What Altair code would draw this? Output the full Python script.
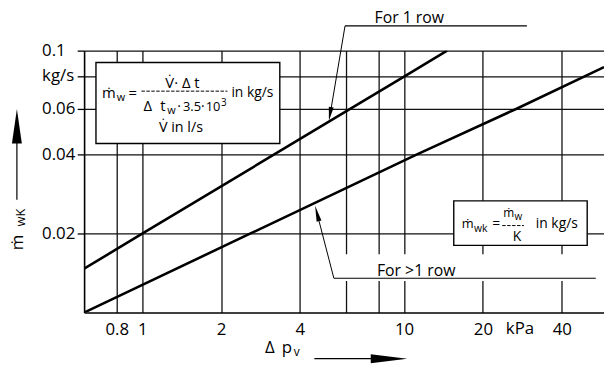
import altair as alt
import pandas as pd

# ---- values ----
dp_one_row = [0.6, 1.0, 6.0, 10.0, 14.6]          # kPa
m_one_row = [0.0147, 0.02, 0.0586, 0.0796, 0.1]   # kg/s
dp_multi_row = [0.6, 2.58, 11.1, 26.9, 58.0]
m_multi_row = [0.01, 0.02, 0.04, 0.06, 0.0865]
series_names = ["For 1 row", "For >1 row"]
x_ticks = [0.8, 1, 2, 4, 6, 8, 10, 20, 40]
y_ticks = [0.02, 0.04, 0.06, 0.08, 0.1]

df = pd.DataFrame({
    "dp": dp_one_row + dp_multi_row,
    "m": m_one_row + m_multi_row,
    "series": [series_names[0]] * len(dp_one_row) + [series_names[1]] * len(dp_multi_row),
})

FONT = "Open Sans"
INK = "black"
W, H = 526, 265

xscale = alt.Scale(type="log", domain=[0.6, 58], nice=False, zero=False)
yscale = alt.Scale(type="log", domain=[0.01, 0.1], nice=False, zero=False)

lines = alt.Chart(df).mark_line(color=INK, strokeWidth=2.6, clip=True).encode(
    x=alt.X("dp:Q", scale=xscale, axis=alt.Axis(
        values=x_ticks, title=None, grid=True, gridColor="#111", gridWidth=1.3, gridOpacity=1,
        domain=True, domainColor=INK, domainWidth=1.6, ticks=False, tickSize=0,
        labelPadding=17, labelBaseline="middle", labelFont=FONT, labelFontSize=17,
        labelColor=INK, labelOverlap=False, labelFlush=False, labelBound=False,
        labelExpr="(datum.value == 6 || datum.value == 8) ? '' : format(datum.value, '~g')")),
    y=alt.Y("m:Q", scale=yscale, axis=alt.Axis(
        values=y_ticks, title=None, grid=True, gridColor="#111", gridWidth=1.3, gridOpacity=1,
        domain=True, domainColor=INK, domainWidth=1.6, ticks=True, tickSize=7,
        tickColor=INK, tickWidth=1.3, labelAlign="left", labelPadding=36,
        labelBaseline="middle", labelFont=FONT, labelFontSize=17, labelColor=INK,
        labelOverlap=False, labelFlush=False, labelBound=False,
        labelExpr="datum.value == 0.08 ? 'kg/s' : format(datum.value, '.2~f')")),
    detail="series:N",
)

dummy = pd.DataFrame({"a": [0]})


def txt(s, x, y, size=15, align="left", baseline="alphabetic", angle=0):
    return alt.Chart(dummy).mark_text(
        text=s, font=FONT, fontSize=size, align=align, baseline=baseline,
        angle=angle, color=INK).encode(x=alt.value(x), y=alt.value(y))


def seg(x1, y1, x2, y2, width=1.2, color=INK, dash=None):
    kw = dict(color=color, strokeWidth=width)
    if dash:
        kw["strokeDash"] = dash
    return alt.Chart(dummy).mark_rule(**kw).encode(
        x=alt.value(x1), y=alt.value(y1), x2=alt.value(x2), y2=alt.value(y2))


def box(x1, y1, x2, y2, stroke=True):
    kw = dict(fill="white", opacity=1)
    if stroke:
        kw.update(stroke=INK, strokeWidth=1.4)
    return alt.Chart(dummy).mark_rect(**kw).encode(
        x=alt.value(x1), y=alt.value(y1), x2=alt.value(x2), y2=alt.value(y2))


def head(x, y, length, width, angle):
    w = width / length
    return alt.Chart(dummy).mark_point(
        shape=f"M0,0L{w:.3f},2L-{w:.3f},2Z", filled=True, fill=INK, color=INK,
        opacity=1, strokeWidth=0, size=length * length, angle=angle).encode(
        x=alt.value(x), y=alt.value(y))


layers = [lines]

# "For 1 row" label with leader
layers += [
    txt("For 1 row", 329, -28, size=16, align="center"),
    seg(264, -25, 448, -25, width=1.2),
    seg(264, -25, 250, 58, width=1.0),
    head(247.7, 71, 14, 5, 189.6),
]

# "For >1 row" label with white gap and leader
layers += [
    box(255, 206, 520, 233, stroke=False),
    txt("For >1 row", 336, 227.7, size=16, align="center"),
    seg(252.7, 230.3, 517.7, 230.3, width=1.2),
    seg(252.7, 230.3, 237.7, 172.5, width=1.0),
    head(233.7, 157, 16, 5, 345.5),
]

# formula box 1
layers += [
    box(12, 12, 198, 94),
    txt("\u1e41", 18, 47.7, size=15),
    txt("w", 33, 51, size=11),
    txt("=", 45, 47.7, size=15),
    txt("V\u0307\u00b7 \u0394 t", 99.5, 37.7, size=15, align="center"),
    seg(58, 41, 145, 41, width=1.0, dash=[3.5, 1.5]),
    txt("\u0394", 60, 61, size=15),
    txt("t", 77, 61, size=15),
    txt("w", 84, 64, size=11),
    txt("\u00b7", 96, 61, size=14, align="center"),
    txt("3.5", 100, 61, size=13),
    txt("\u00b7", 120, 61, size=14, align="center"),
    txt("10", 123, 61, size=13),
    txt("3", 138.5, 56, size=10),
    txt("in kg/s", 149, 46.7, size=14),
    txt("V\u0307 in l/s", 98, 82, size=14.5, align="center"),
]

# formula box 2
layers += [
    box(374, 152, 509, 197),
    txt("\u1e41", 382, 179.3, size=13),
    txt("wk", 394.5, 183.3, size=10.5),
    txt("=", 413, 179.3, size=14),
    txt("\u1e41", 424, 168.7, size=12),
    txt("w", 435.5, 171, size=10),
    seg(423, 177, 445, 177, width=1.0, dash=[3.5, 1.5]),
    txt("K", 438, 192.7, size=14, align="center"),
    txt("in kg/s", 457, 179.3, size=14),
]

# unit label on x axis
layers += [txt("kPa", 441, 282, size=17, align="center", baseline="middle")]

# y axis title with arrow
layers += [
    seg(-68, 151, -68, 80, width=1.2),
    head(-68, 59, 35, 10, 0),
    txt("\u1e41", -62, 202, size=17, angle=270),
    txt("wK", -59.5, 178, size=13, angle=270),
]

# x axis title with arrow
layers += [
    txt("\u0394", 183, 306, size=17),
    txt("p", 200, 306, size=17),
    txt("v", 212, 309, size=12),
    seg(233, 311.7, 300, 311.7, width=1.2),
    head(327, 311.7, 37, 9, 90),
]

chart = alt.layer(*layers).properties(
    width=W, height=H,
    autosize=alt.AutoSizeParams(type="none"),
    padding={"left": 77, "top": 41, "right": 0, "bottom": 56},
).configure_view(stroke=None)

chart.save("out.html", embed_options={"renderer": "svg", "actions": False})
